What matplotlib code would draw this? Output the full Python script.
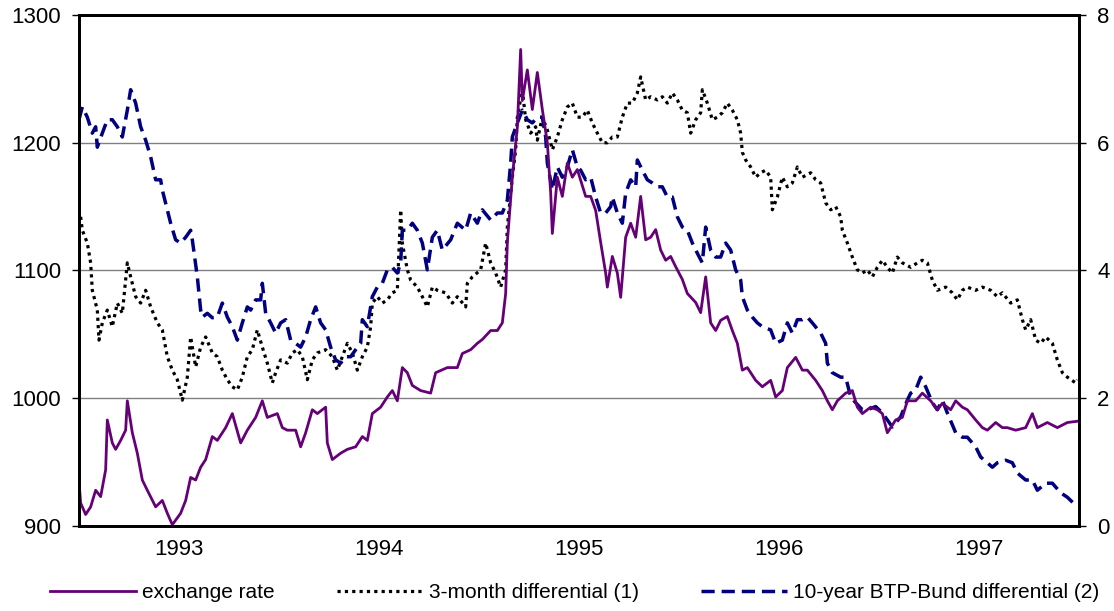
import numpy as np
import matplotlib.pyplot as plt
from matplotlib.lines import Line2D

# months since January 1993 and values
exch_months = [0.0, 0.1, 0.4, 0.7, 1.0, 1.3, 1.6, 1.7, 2.0, 2.2, 2.5, 2.8, 2.9, 3.2, 3.5, 3.8,
               4.1, 4.6, 5.0, 5.3, 5.6, 6.1, 6.4, 6.7, 7.0, 7.3, 7.6, 8.0, 8.3, 8.8, 9.2, 9.7,
               10.1, 10.6, 11.0, 11.3, 11.9, 12.2, 12.5, 13.0, 13.3, 13.6, 14.0, 14.3, 14.8,
               14.9, 15.2, 15.7, 16.1, 16.6, 17.0, 17.3, 17.6, 18.1, 18.5, 18.8, 19.1, 19.4,
               19.7, 20.0, 20.5, 21.1, 21.4, 22.1, 22.7, 23.0, 23.5, 23.9, 24.2, 24.7, 25.1,
               25.4, 25.6, 25.7, 26.0, 26.3, 26.5, 26.6, 26.9, 27.2, 27.5, 27.8, 28.1, 28.3,
               28.4, 28.7, 29.0, 29.3, 29.6, 29.9, 30.4, 30.7, 31.0, 31.3, 31.6, 31.7, 32.0,
               32.3, 32.5, 32.8, 33.1, 33.4, 33.7, 34.0, 34.3, 34.6, 34.9, 35.2, 35.5, 35.8,
               36.2, 36.5, 37.0, 37.3, 37.6, 37.9, 38.2, 38.5, 38.9, 39.2, 39.5, 39.8, 40.1,
               40.6, 41.0, 41.5, 41.8, 42.2, 42.5, 43.0, 43.4, 43.7, 44.2, 44.6, 44.9, 45.2,
               45.5, 46.0, 46.4, 46.7, 47.0, 47.5, 47.9, 48.2, 48.5, 49.0, 49.4, 49.7, 50.2,
               50.6, 51.1, 51.5, 51.8, 52.3, 52.6, 53.0, 53.3, 53.8, 54.2, 54.5, 55.0, 55.4,
               55.7, 56.2, 56.8, 57.2, 57.5, 58.1, 58.7, 59.3, 59.9]
exch_rate = [935, 918, 909, 915, 928, 923, 944, 983, 965, 960, 967, 975, 998, 973, 957, 936,
             928, 915, 920, 910, 901, 910, 920, 938, 936, 946, 952, 970, 967, 977, 988, 965,
             975, 985, 998, 985, 988, 977, 975, 975, 962, 973, 991, 988, 993,
             965, 952, 957, 960, 962, 970, 967, 988, 993, 1001, 1006, 998, 1024,
             1020, 1010, 1006, 1004, 1020, 1024, 1024, 1035, 1038, 1043, 1046, 1053, 1053,
             1059, 1082, 1122, 1173, 1212, 1273, 1233, 1257, 1226, 1255, 1226, 1200, 1161,
             1129, 1173, 1158, 1184, 1173, 1179, 1158, 1158, 1147, 1122, 1098, 1087, 1111,
             1098, 1079, 1126, 1137, 1126, 1158, 1124, 1126, 1132, 1116, 1108, 1111, 1103,
             1093, 1082, 1075, 1067, 1095, 1059, 1053, 1061, 1064, 1053, 1043, 1022, 1024,
             1014, 1009, 1014, 1001, 1006, 1024, 1032, 1022, 1022, 1014, 1006, 998, 991,
             998, 1004, 1006, 993, 988, 993, 991, 988, 973, 983, 985, 998, 998,
             1004, 998, 991, 996, 991, 998, 993, 991, 983, 977, 975, 981, 977,
             977, 975, 977, 988, 977, 981, 977, 981, 982]

m3_months = [0.1, 0.2, 0.5, 0.7, 0.8, 1.1, 1.2, 1.4, 1.7, 2.0, 2.3, 2.6, 2.9, 3.1, 3.4, 3.7,
             4.0, 4.3, 4.7, 5.0, 5.3, 5.6, 5.9, 6.2, 6.5, 6.7, 7.0, 7.3, 7.6, 8.0, 8.3, 8.6,
             8.9, 9.2, 9.5, 9.8, 10.1, 10.4, 10.7, 11.0, 11.3, 11.6, 11.8, 12.1, 12.5, 12.8,
             13.1, 13.4, 13.7, 14.0, 14.3, 14.8, 15.2, 15.5, 15.8, 16.1, 16.4, 16.7, 17.0,
             17.3, 17.5, 17.6, 17.9, 18.2, 18.5, 18.8, 19.1, 19.3, 19.4, 19.7, 19.9, 20.3,
             20.6, 20.9, 21.2, 21.5, 22.0, 22.4, 22.7, 23.2, 23.3, 23.6, 24.1, 24.4, 24.7,
             25.0, 25.3, 25.6, 25.7, 26.0, 26.2, 26.3, 26.6, 26.8, 27.1, 27.4, 27.5, 27.8,
             28.1, 28.4, 28.7, 29.0, 29.3, 29.6, 29.9, 30.2, 30.5, 30.8, 31.1, 31.4, 31.7,
             32.0, 32.3, 32.6, 32.9, 33.2, 33.5, 33.7, 34.0, 34.3, 34.7, 35.0, 35.3, 35.6,
             35.9, 36.2, 36.5, 36.7, 37.0, 37.3, 37.4, 37.7, 38.0, 38.3, 38.6, 38.9, 39.2,
             39.5, 39.7, 39.8, 40.0, 40.3, 40.6, 40.9, 41.2, 41.5, 41.6, 41.9, 42.2, 42.5,
             42.8, 43.1, 43.4, 43.9, 44.2, 44.5, 44.8, 45.1, 45.4, 45.7, 45.8, 46.1, 46.4,
             46.7, 47.0, 47.3, 47.6, 47.9, 48.2, 48.5, 48.8, 49.1, 49.4, 49.9, 50.3, 50.6,
             50.9, 51.2, 51.5, 52.0, 52.4, 52.7, 53.0, 53.3, 53.8, 54.2, 54.7, 55.1, 55.4,
             55.9, 56.3, 56.6, 56.8, 57.1, 57.4, 57.7, 58.0, 58.4, 58.7, 59.0, 59.3, 59.8,
             59.9]
m3_spread = [4.84, 4.63, 4.43, 4.12, 3.69, 3.38, 2.91, 3.18, 3.38, 3.12, 3.49, 3.33, 4.12,
             3.90, 3.59, 3.49, 3.69, 3.43, 3.18, 3.07, 2.65, 2.44, 2.29, 1.97, 2.33, 2.96,
             2.49, 2.80, 2.96, 2.71, 2.65, 2.44, 2.29, 2.18, 2.13, 2.33, 2.65, 2.76, 3.07,
             2.80, 2.55, 2.24, 2.40, 2.60, 2.55, 2.71, 2.76, 2.65, 2.29, 2.60, 2.71, 2.76,
             2.65, 2.44, 2.65, 2.86, 2.71, 2.44, 2.65, 2.80, 3.12, 3.49, 3.59, 3.49, 3.54,
             3.65, 3.69, 4.95, 4.43, 4.01, 3.85, 3.74, 3.59, 3.43, 3.74, 3.69, 3.65, 3.49,
             3.59, 3.43, 3.80, 3.90, 4.01, 4.43, 4.12, 3.96, 3.74, 4.01, 4.68, 5.46, 5.89,
             6.40, 6.83, 6.36, 6.15, 6.25, 6.04, 6.40, 6.20, 5.89, 6.09, 6.36, 6.56, 6.62,
             6.40, 6.40, 6.51, 6.31, 6.15, 6.00, 6.00, 6.09, 6.09, 6.40, 6.62, 6.62, 6.78,
             7.03, 6.67, 6.72, 6.67, 6.72, 6.62, 6.78, 6.67, 6.51, 6.47, 6.15, 6.36, 6.47,
             6.83, 6.62, 6.36, 6.40, 6.47, 6.62, 6.51, 6.36, 6.15, 5.85, 5.73, 5.62, 5.46,
             5.53, 5.57, 5.46, 4.95, 5.15, 5.46, 5.31, 5.37, 5.62, 5.46, 5.53, 5.42, 5.37,
             5.06, 4.95, 5.00, 4.84, 4.63, 4.43, 4.21, 4.01, 3.96, 4.01, 3.90, 4.05, 4.16,
             4.05, 3.96, 4.21, 4.12, 4.05, 4.12, 4.16, 4.12, 3.85, 3.69, 3.74, 3.65, 3.54,
             3.69, 3.74, 3.69, 3.74, 3.69, 3.59, 3.65, 3.49, 3.54, 3.23, 3.07, 3.23, 2.91,
             2.86, 2.96, 2.86, 2.60, 2.40, 2.33, 2.24, 2.29]

btp_months = [0.0, 0.2, 0.5, 0.8, 1.0, 1.1, 1.4, 1.7, 2.0, 2.3, 2.6, 2.9, 3.1, 3.4, 3.7, 4.0,
              4.3, 4.6, 4.9, 5.0, 5.3, 5.5, 5.8, 6.1, 6.4, 6.7, 6.8, 7.1, 7.3, 7.4, 7.7, 8.0,
              8.3, 8.6, 8.9, 9.2, 9.5, 9.8, 10.1, 10.3, 10.6, 10.9, 11.0, 11.2, 11.5, 11.8,
              12.1, 12.4, 12.7, 13.0, 13.3, 13.6, 13.9, 14.2, 14.5, 14.8, 15.1, 15.4, 15.7,
              16.0, 16.3, 16.6, 16.9, 17.0, 17.3, 17.6, 17.9, 18.2, 18.5, 18.8, 19.1, 19.3,
              19.4, 19.7, 20.0, 20.3, 20.6, 20.9, 21.2, 21.5, 21.8, 22.3, 22.7, 23.2, 23.5,
              23.9, 24.2, 24.7, 25.1, 25.4, 25.7, 25.9, 26.0, 26.3, 26.6, 26.9, 27.2, 27.5,
              27.8, 28.0, 28.1, 28.4, 28.7, 29.0, 29.3, 29.6, 29.9, 30.1, 30.4, 30.7, 31.0,
              31.3, 31.6, 31.9, 32.0, 32.3, 32.6, 32.8, 33.1, 33.4, 33.5, 33.8, 34.1, 34.4,
              34.7, 35.0, 35.3, 35.6, 35.9, 36.2, 36.5, 36.8, 37.1, 37.4, 37.6, 37.9, 38.2,
              38.5, 38.8, 39.1, 39.4, 39.7, 39.8, 40.1, 40.4, 40.7, 41.0, 41.5, 41.8, 42.2,
              42.5, 42.8, 43.1, 43.4, 43.7, 44.0, 44.5, 44.8, 44.9, 45.2, 45.7, 46.0, 46.3,
              46.6, 47.0, 47.3, 47.8, 48.2, 48.5, 48.8, 49.3, 49.7, 49.9, 50.2, 50.5, 50.8,
              51.2, 51.5, 51.8, 52.1, 52.6, 53.0, 53.3, 53.8, 54.1, 54.5, 54.8, 55.1, 55.6,
              56.0, 56.3, 56.8, 57.2, 57.5, 58.0, 58.4, 58.9, 59.3, 59.9]
btp_spread = [6.36, 6.56, 6.40, 6.15, 6.25, 5.93, 6.15, 6.36, 6.36, 6.25, 6.09, 6.51, 6.83,
              6.62, 6.25, 6.04, 5.78, 5.42, 5.42, 5.26, 4.95, 4.74, 4.48, 4.43, 4.52, 4.63,
              4.48, 3.90, 3.38, 3.27, 3.33, 3.26, 3.27, 3.49, 3.27, 3.12, 2.91, 3.18, 3.43,
              3.38, 3.54, 3.54, 3.80, 3.33, 3.18, 3.02, 3.18, 3.23, 2.91, 2.86, 2.80, 2.96,
              3.23, 3.43, 3.18, 3.07, 2.80, 2.60, 2.55, 2.65, 2.65, 2.76, 2.86, 3.23, 3.12,
              3.59, 3.74, 3.80, 4.01, 4.05, 3.96, 4.12, 4.63, 4.63, 4.74, 4.63, 4.43, 4.01,
              4.52, 4.63, 4.32, 4.48, 4.74, 4.63, 4.90, 4.74, 4.95, 4.79, 4.90, 4.90, 5.10,
              5.68, 6.09, 6.31, 6.51, 6.36, 6.31, 6.40, 6.40, 6.09, 5.68, 5.26, 5.62, 5.46,
              5.62, 5.89, 5.62, 5.57, 5.42, 5.46, 5.15, 4.90, 4.90, 5.00, 5.15, 4.90, 4.74,
              5.21, 5.42, 5.31, 5.73, 5.57, 5.42, 5.37, 5.31, 5.31, 5.15, 5.15, 4.84, 4.68,
              4.63, 4.43, 4.27, 4.12, 4.68, 4.32, 4.21, 4.21, 4.43, 4.32, 4.01, 3.85, 3.59,
              3.38, 3.27, 3.18, 3.12, 3.07, 2.86, 2.91, 3.18, 3.02, 3.23, 3.23, 3.27, 3.18,
              3.02, 2.86, 2.55, 2.40, 2.33, 2.33, 2.02, 1.93, 1.82, 1.82, 1.87, 1.77, 1.66,
              1.55, 1.71, 1.97, 2.08, 2.13, 2.33, 2.18, 1.93, 1.82, 1.97, 1.77, 1.46, 1.39,
              1.39, 1.24, 1.08, 0.99, 0.92, 0.99, 1.03, 0.99, 0.83, 0.72, 0.72, 0.56, 0.67,
              0.67, 0.52, 0.45, 0.30]

years = ["1993", "1994", "1995", "1996", "1997"]

plt.rcParams["font.family"] = ["Liberation Sans", "DejaVu Sans"]

fig = plt.figure(figsize=(11.14, 6.11), dpi=100)
ax = fig.add_axes([0.0709, 0.1391, 0.8977, 0.8364])
ax2 = ax.twinx()

to_year = lambda m: 1993 + np.array(m) / 12.0

purple = "#660077"
navy = "#000080"
dots = (0, (1.0, 1.3))
dashes = (0, (3.8, 2.0))

ax2.plot(to_year(m3_months), m3_spread, color="black", lw=2.3,
         linestyle=dots, dash_capstyle="butt")
ax2.plot(to_year(btp_months), btp_spread, color=navy, lw=2.5, linestyle=dashes)
ax.plot(to_year(exch_months), exch_rate, color=purple, lw=2.0)

# exchange rate drawn above the right-axis series
ax.set_zorder(ax2.get_zorder() + 1)
ax.patch.set_visible(False)
ax2.patch.set_visible(True)
ax2.patch.set_facecolor("white")

ax.set_xlim(1993, 1998)
ax.set_ylim(900, 1300)
ax2.set_ylim(0, 8)
ax.set_yticks([900, 1000, 1100, 1200, 1300])
ax2.set_yticks([0, 2, 4, 6, 8])

ax.set_xticks([1994, 1995, 1996, 1997])
ax.set_xticklabels([])
ax.set_xticks([1993.5 + i for i in range(5)], minor=True)
ax.set_xticklabels(years, minor=True)
ax.tick_params(axis="x", which="minor", length=0, pad=9, labelsize=16)
ax.tick_params(axis="x", which="major", length=0)
ax.tick_params(axis="y", direction="out", length=5, width=1, pad=8, labelsize=16)
ax2.tick_params(axis="y", direction="out", length=5, width=1, pad=8, labelsize=16)

ax2.set_xticks([1994, 1995, 1996, 1997])
ax2.grid(True, color="#808080", lw=1.0)
ax.grid(False)

for a in (ax, ax2):
    for s in a.spines.values():
        s.set_linewidth(2.0)
        s.set_color("black")

handles = [
    Line2D([], [], color=purple, lw=2.0),
    Line2D([], [], color="black", lw=2.3, linestyle=dots, dash_capstyle="butt"),
    Line2D([], [], color=navy, lw=2.5, linestyle=dashes),
]
labels = ["exchange rate", "3-month differential (1)", "10-year BTP-Bund differential (2)"]
fig.legend(handles, labels, loc="center", bbox_to_anchor=(0.516, 0.03), ncol=3,
           frameon=False, fontsize=15, handlelength=4.1, handletextpad=0.3,
           columnspacing=3.0)

fig.savefig("out.png", dpi=100)
